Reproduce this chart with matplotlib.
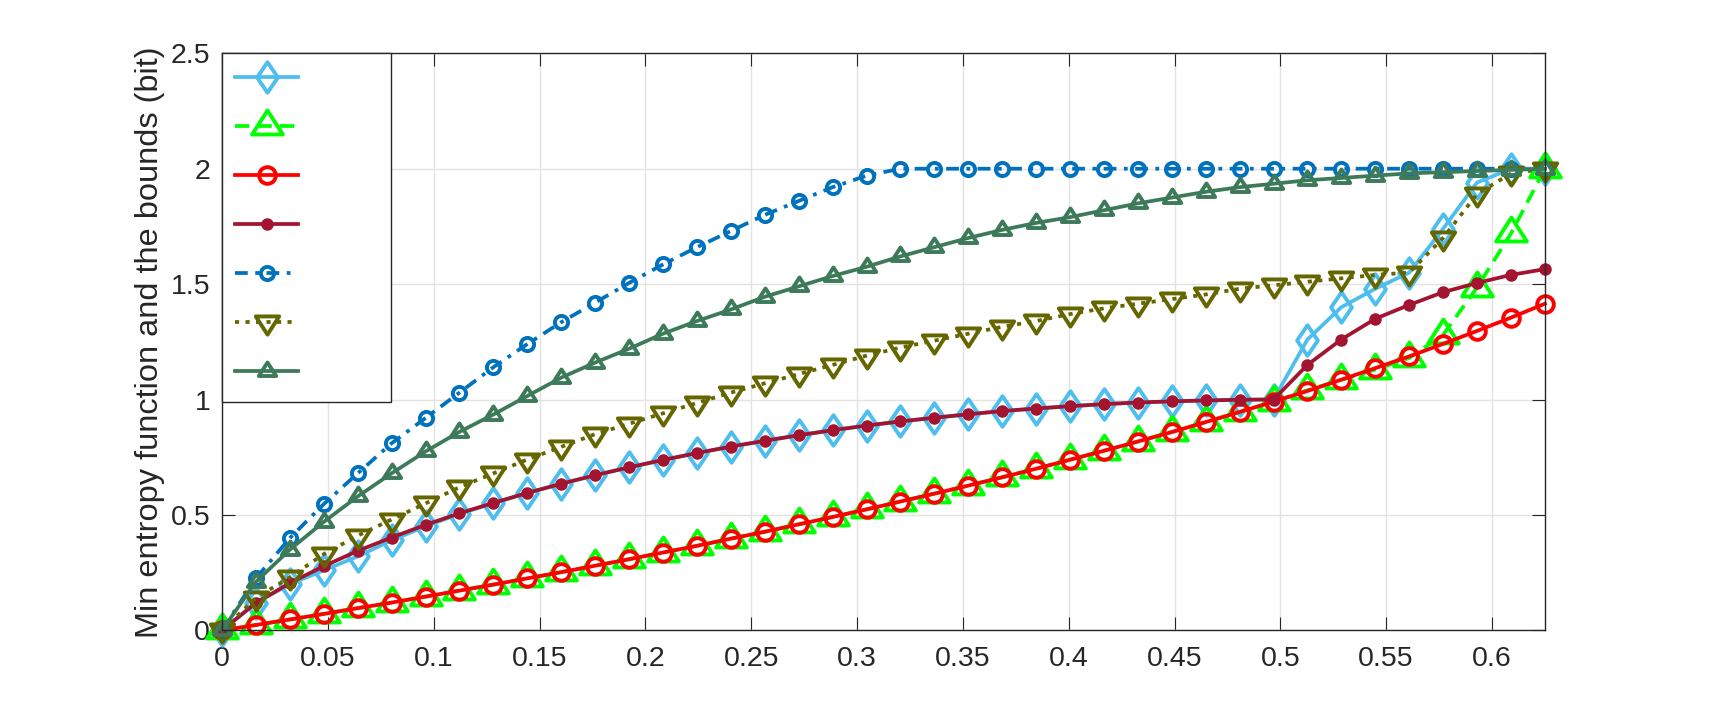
import matplotlib
matplotlib.use("Agg")
import matplotlib.pyplot as plt
from matplotlib.path import Path
from matplotlib.markers import MarkerStyle

# sample points on the x axis
x = [0, 0.016, 0.0321, 0.0481, 0.0641, 0.0801, 0.0962, 0.1122, 0.1282, 0.1442,
     0.1603, 0.1763, 0.1923, 0.2083, 0.2244, 0.2404, 0.2564, 0.2724, 0.2885, 0.3045,
     0.3205, 0.3365, 0.3526, 0.3686, 0.3846, 0.4006, 0.4167, 0.4327, 0.4487, 0.4647,
     0.4808, 0.4968, 0.5128, 0.5288, 0.5449, 0.5609, 0.5769, 0.5929, 0.609, 0.625]

diamond_vals = [0, 0.12, 0.20, 0.26, 0.32, 0.39, 0.45, 0.505, 0.55, 0.595,
                0.635, 0.672, 0.706, 0.738, 0.768, 0.796, 0.821, 0.845, 0.867, 0.887,
                0.905, 0.921, 0.936, 0.95, 0.961, 0.971, 0.98, 0.987, 0.992, 0.996,
                0.999, 1.0, 1.26, 1.40, 1.48, 1.55, 1.74, 1.94, 2.0, 2.0]

green_vals = [0, 0.023, 0.047, 0.071, 0.096, 0.12, 0.146, 0.172, 0.198, 0.225,
              0.252, 0.28, 0.308, 0.337, 0.366, 0.397, 0.427, 0.459, 0.491, 0.524,
              0.558, 0.592, 0.627, 0.663, 0.7, 0.739, 0.778, 0.818, 0.859, 0.902,
              0.946, 0.99, 1.04, 1.085, 1.13, 1.18, 1.28, 1.485, 1.72, 2.0]

red_vals = [0, 0.023, 0.047, 0.071, 0.096, 0.12, 0.146, 0.172, 0.198, 0.225,
            0.252, 0.28, 0.308, 0.337, 0.366, 0.397, 0.427, 0.459, 0.491, 0.524,
            0.558, 0.592, 0.627, 0.663, 0.7, 0.739, 0.778, 0.818, 0.859, 0.902,
            0.946, 0.991, 1.037, 1.086, 1.136, 1.187, 1.241, 1.297, 1.355, 1.415]

maroon_vals = [0, 0.118, 0.205, 0.278, 0.344, 0.402, 0.457, 0.507, 0.552, 0.595,
               0.635, 0.672, 0.706, 0.738, 0.768, 0.796, 0.821, 0.845, 0.867, 0.887,
               0.905, 0.921, 0.936, 0.95, 0.961, 0.971, 0.98, 0.987, 0.992, 0.996,
               0.999, 1.0, 1.15, 1.26, 1.35, 1.41, 1.465, 1.505, 1.54, 1.565]

blue_vals = [0, 0.225, 0.40, 0.547, 0.68, 0.81, 0.92, 1.03, 1.14, 1.24,
             1.335, 1.42, 1.505, 1.585, 1.66, 1.73, 1.80, 1.86, 1.92, 1.97,
             2.0, 2.0, 2.0, 2.0, 2.0, 2.0, 2.0, 2.0, 2.0, 2.0,
             2.0, 2.0, 2.0, 2.0, 2.0, 2.0, 2.0, 2.0, 2.0, 2.0]

olive_vals = [0, 0.14, 0.23, 0.33, 0.41, 0.48, 0.55, 0.62, 0.68, 0.74,
              0.795, 0.85, 0.895, 0.94, 0.985, 1.03, 1.07, 1.11, 1.15, 1.19,
              1.225, 1.255, 1.285, 1.315, 1.34, 1.37, 1.395, 1.415, 1.435, 1.455,
              1.48, 1.495, 1.51, 1.525, 1.54, 1.55, 1.70, 1.89, 1.98, 2.0]

dkgreen_vals = [0, 0.21, 0.35, 0.47, 0.58, 0.68, 0.775, 0.86, 0.935, 1.015,
                1.095, 1.16, 1.22, 1.285, 1.34, 1.39, 1.445, 1.49, 1.535, 1.575,
                1.62, 1.66, 1.70, 1.735, 1.765, 1.79, 1.82, 1.85, 1.875, 1.90,
                1.92, 1.935, 1.95, 1.96, 1.97, 1.98, 1.985, 1.99, 1.995, 2.0]

xticks = [0, 0.05, 0.1, 0.15, 0.2, 0.25, 0.3, 0.35, 0.4, 0.45, 0.5, 0.55, 0.6]
xtick_labels = ['0', '0.05', '0.1', '0.15', '0.2', '0.25', '0.3', '0.35', '0.4',
                '0.45', '0.5', '0.55', '0.6']
yticks = [0, 0.5, 1, 1.5, 2, 2.5]
ytick_labels = ['0', '0.5', '1', '1.5', '2', '2.5']
ylabel = 'Min entropy function and the bounds (bit)'

plt.rcParams['font.family'] = ['Liberation Sans', 'DejaVu Sans']


# matlab-like markers (triangles centred on their centroid, tall diamond)
def tri(up=True):
    s = 1 if up else -1
    v = [(0, s * 1.04), (-1, -s * 0.52), (1, -s * 0.52), (0, s * 1.04)]
    return MarkerStyle(Path(v, closed=True), joinstyle='miter')


diam = MarkerStyle(Path([(0, 1), (0.68, 0), (0, -1), (-0.68, 0), (0, 1)], closed=True),
                   joinstyle='miter')

fig = plt.figure(figsize=(17.09, 7.09), dpi=100)
ax = fig.add_axes([0.1299, 0.111, 0.7741, 0.8138])

lw = 2.7
mew = 2.8
ax.plot(x, diamond_vals, color='#4DBEEE', lw=lw, marker=diam, ms=22, mew=mew,
        mfc='none', clip_on=False, label=' ')
ax.plot(x, green_vals, color='#00FF00', lw=lw, dashes=(3.8, 2.2), marker=tri(True),
        ms=23, mew=mew, mfc='none', clip_on=False, label=' ')
ax.plot(x, red_vals, color='#FF0000', lw=lw, marker='o', ms=12, mew=mew,
        mfc='none', clip_on=False, label=' ')
ax.plot(x, maroon_vals, color='#A2142F', lw=lw, marker='o', ms=7.5, mew=1.5,
        mfc='#A2142F', clip_on=False, label=' ')
ax.plot(x, blue_vals, color='#0072BD', lw=lw, dashes=(3.4, 2.0, 1, 2.0), marker='o',
        ms=9.5, mew=mew, mfc='none', clip_on=False, label=' ')
ax.plot(x, olive_vals, color='#666600', lw=lw, dashes=(1.1, 1.7), marker=tri(False),
        ms=17.5, mew=mew, mfc='none', clip_on=False, label=' ')
ax.plot(x, dkgreen_vals, color='#3D7A59', lw=lw, marker=tri(True), ms=13, mew=mew,
        mfc='none', clip_on=False, label=' ')

ax.set_xlim(0, 0.625)
ax.set_ylim(0, 2.5)
ax.set_xticks(xticks)
ax.set_xticklabels(xtick_labels)
ax.set_yticks(yticks)
ax.set_yticklabels(ytick_labels)
ax.tick_params(direction='in', length=9.5, width=0.8, top=True, right=True,
               color='#262626', labelcolor='#262626', labelsize=20.5)
ax.tick_params(axis='x', pad=11)
ax.tick_params(axis='y', pad=8.5)
ax.grid(True, color='#E3E3E3', lw=1.0)
ax.set_axisbelow(True)
for sp in ax.spines.values():
    sp.set_color('#262626')
    sp.set_linewidth(1.0)

ax.set_ylabel(ylabel, fontsize=23.4, color='#262626')
ax.yaxis.set_label_coords(-0.043, 0.5)

leg = ax.legend(loc='upper left', bbox_to_anchor=(0, 0, 0.1277, 1), mode='expand',
                borderaxespad=0, numpoints=1, fontsize=16, handlelength=2.84,
                handleheight=1.62, labelspacing=0.9, borderpad=0.6,
                fancybox=False, framealpha=1, edgecolor='#262626')
leg.get_frame().set_linewidth(1.0)

fig.savefig('out.png', dpi=100)
